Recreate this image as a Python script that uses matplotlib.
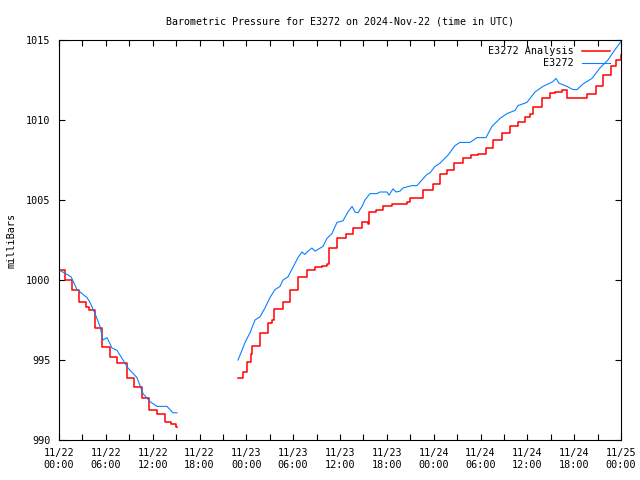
import matplotlib
matplotlib.use("Agg")
import matplotlib.pyplot as plt
import numpy as np

# hours since 2024-11-22 00:00 UTC
blue_t1 = [0.13, 1.54, 2.31, 3.59, 3.97, 4.61, 5.25, 5.64, 6.15, 6.79, 7.43, 8.20,
           8.84, 9.99, 10.76, 11.66, 12.55, 13.84, 14.60, 15.12]
blue_p1 = [1000.6, 1000.2, 999.4, 998.9, 998.6, 997.9, 997.1, 996.25, 996.4, 995.75,
           995.6, 995.0, 994.5, 993.9, 992.9, 992.4, 992.1, 992.1, 991.7, 991.7]

blue_t2 = [22.93, 23.44, 23.83, 24.47, 25.11, 25.75, 26.39, 27.03, 27.67, 28.31, 28.70,
           29.34, 29.98, 30.62, 31.13, 31.51, 31.90, 32.41, 32.80, 33.82, 34.33, 34.97,
           35.61, 36.38, 37.02, 37.54, 37.92, 38.30, 38.82, 39.20, 39.84, 40.74, 41.12,
           42.02, 42.28, 42.79, 43.17, 43.68, 44.07, 45.22, 45.86, 46.50, 47.14, 47.53,
           48.17, 48.81, 49.83, 50.73, 51.37, 52.65, 53.55, 54.70, 55.47, 56.50, 57.39,
           58.42, 58.80, 59.95, 60.98, 62.00, 63.28, 63.67, 64.05, 65.08, 65.85, 66.36,
           67.13, 68.28, 69.31, 70.33, 71.23, 72.0]
blue_p2 = [995.0, 995.6, 996.1, 996.7, 997.5, 997.7, 998.25, 998.9, 999.4, 999.6, 1000.0,
           1000.2, 1000.8, 1001.4, 1001.75, 1001.6, 1001.8, 1002.0, 1001.8, 1002.1, 1002.6,
           1002.9, 1003.6, 1003.7, 1004.25, 1004.6, 1004.25, 1004.2, 1004.6, 1005.0, 1005.4,
           1005.4, 1005.5, 1005.5, 1005.3, 1005.7, 1005.5, 1005.55, 1005.75, 1005.9, 1005.9,
           1006.25, 1006.6, 1006.7, 1007.1, 1007.3, 1007.8, 1008.4, 1008.6, 1008.6, 1008.9,
           1008.9, 1009.6, 1010.1, 1010.4, 1010.6, 1010.9, 1011.1, 1011.75, 1012.1, 1012.4,
           1012.6, 1012.3, 1012.1, 1011.9, 1011.9, 1012.25, 1012.6, 1013.25, 1013.75,
           1014.4, 1014.9]

red_t1 = [0.0, 0.77, 1.67, 2.56, 3.46, 3.84, 4.61, 5.51, 6.53, 7.43, 8.71, 9.61, 10.63,
          11.53, 12.55, 13.58, 14.35, 14.99, 15.12]
red_p1 = [1000.6, 1000.0, 999.4, 998.6, 998.3, 998.1, 997.0, 995.8, 995.2, 994.8, 993.9,
          993.3, 992.6, 991.9, 991.6, 991.1, 991.0, 990.8, 990.8]

red_t2 = [22.93, 23.57, 24.08, 24.60, 24.72, 25.75, 26.77, 27.29, 27.54, 28.70, 29.59,
          30.62, 31.77, 32.80, 33.69, 34.33, 34.59, 35.61, 36.77, 37.66, 38.82, 39.58,
          39.71, 40.61, 41.51, 42.66, 44.58, 44.97, 46.63, 47.91, 48.81, 49.71, 50.60,
          51.76, 52.78, 53.68, 54.70, 55.60, 56.75, 57.78, 58.80, 59.70, 60.34, 60.72,
          61.88, 62.90, 63.54, 64.44, 65.08, 67.64, 68.79, 69.69, 70.72, 71.36, 72.0]
red_p2 = [993.9, 994.25, 994.9, 995.4, 995.9, 996.7, 997.3, 997.5, 998.2, 998.6, 999.4,
          1000.2, 1000.6, 1000.8, 1000.9, 1001.0, 1002.0, 1002.6, 1002.9, 1003.25, 1003.6,
          1003.5, 1004.25, 1004.4, 1004.6, 1004.75, 1004.9, 1005.1, 1005.6, 1006.0, 1006.6,
          1006.9, 1007.3, 1007.6, 1007.8, 1007.9, 1008.25, 1008.75, 1009.2, 1009.6, 1009.9,
          1010.2, 1010.4, 1010.8, 1011.4, 1011.7, 1011.75, 1011.9, 1011.4, 1011.6, 1012.1,
          1012.8, 1013.4, 1013.75, 1014.06]

tick_hours = list(range(0, 73, 6))
tick_labels = ["11/22\n00:00", "11/22\n06:00", "11/22\n12:00", "11/22\n18:00",
               "11/23\n00:00", "11/23\n06:00", "11/23\n12:00", "11/23\n18:00",
               "11/24\n00:00", "11/24\n06:00", "11/24\n12:00", "11/24\n18:00",
               "11/25\n00:00"]

plt.rcParams['font.family'] = 'DejaVu Sans Mono'
plt.rcParams['font.size'] = 7.3

fig = plt.figure(figsize=(6.4, 4.8), dpi=100)
ax = fig.add_axes([59/640, 40/480, 562/640, 400/480])

red_t = red_t1 + [np.nan] + red_t2
red_p = red_p1 + [np.nan] + red_p2
blue_t = blue_t1 + [np.nan] + blue_t2
blue_p = blue_p1 + [np.nan] + blue_p2

ax.plot(red_t, red_p, color='#ff0000', lw=1.1, drawstyle='steps-post', label='E3272 Analysis')
ax.plot(blue_t, blue_p, color='#0a80ff', lw=0.8, label='E3272')

ax.set_xlim(0, 72)
ax.set_ylim(990, 1015)
ax.set_xticks(tick_hours)
ax.set_xticklabels(tick_labels)
ax.set_xticks(range(0, 73, 3), minor=True)
ax.set_yticks(range(990, 1016, 5))
ax.tick_params(which='both', direction='in', top=True, right=True, length=4, width=0.8,
               pad=6)
for s in ax.spines.values():
    s.set_linewidth(0.8)

ax.set_title("Barometric Pressure for E3272 on 2024-Nov-22 (time in UTC)", pad=11,
             fontsize=7.2)
ax.set_ylabel("milliBars", labelpad=7)
ax.legend(loc='upper right', bbox_to_anchor=(0.9875, 0.995), frameon=False,
          markerfirst=False, handlelength=2.8, borderaxespad=0, labelspacing=0.2,
          handletextpad=0.8)

fig.savefig("out.png", dpi=100)
